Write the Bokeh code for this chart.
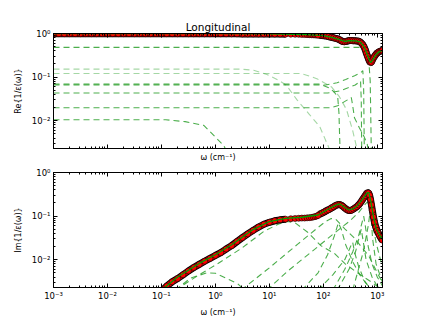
from bokeh.plotting import figure
from bokeh.models import Range1d, LogAxis, FixedTicker, CustomJSTickFormatter
from bokeh.layouts import column
from bokeh.embed import file_html
from bokeh.resources import INLINE

# ---------------- data ----------------
title_text = "Longitudinal"
re_label = "Re{1/ε(ω)}"
im_label = "Im{1/ε(ω)}"
x_label = "ω (cm⁻¹)"

x_ticks = [1e-3, 1e-2, 1e-1, 1, 10, 100, 1000]
y_ticks = [1e-3, 1e-2, 1e-1, 1]

# measured data, Re part: dense low-frequency set
re_w_low = [0.001, 0.00126, 0.00158, 0.002, 0.00251, 0.00316, 0.00398, 0.00501, 0.00631, 0.00794,
            0.01, 0.0126, 0.0158, 0.02, 0.0251, 0.0316, 0.0398, 0.0501, 0.0631, 0.0794,
            0.1, 0.126, 0.158, 0.2, 0.251, 0.316, 0.398, 0.501, 0.631, 0.794,
            1.0, 1.26, 1.58, 2.0, 2.51, 3.16, 3.98, 5.01, 6.31, 7.94,
            10.0, 12.6, 15.8, 20.0]
re_v_low = [0.99, 0.99, 0.99, 0.99, 0.99, 0.99, 0.99, 0.99, 0.99, 0.99,
            0.99, 0.99, 0.99, 0.99, 0.99, 0.99, 0.989, 0.989, 0.989, 0.989,
            0.988, 0.988, 0.988, 0.987, 0.987, 0.987, 0.986, 0.986, 0.985, 0.985,
            0.984, 0.984, 0.983, 0.982, 0.981, 0.980, 0.979, 0.978, 0.977, 0.975,
            0.973, 0.971, 0.968, 0.965]
# sparse middle set
mid_w = [25, 30, 35, 40, 45, 50, 55, 60, 65, 70, 75, 80]
re_v_mid = [0.962, 0.958, 0.955, 0.95, 0.946, 0.942, 0.938, 0.934, 0.93, 0.925, 0.92, 0.915]
im_v_mid = [0.087, 0.088, 0.089, 0.09, 0.09, 0.091, 0.092, 0.093, 0.095, 0.097, 0.1, 0.103]
# dense infrared set
ir_w = [85, 95, 105, 115, 125, 140, 155, 170, 185, 200, 215, 230, 250, 270, 290, 310, 335, 360,
        390, 420, 450, 480, 510, 540, 570, 600, 630, 660, 690, 720, 750, 780, 810, 850, 890,
        940, 990, 1040, 1100, 1160, 1220, 1250]
re_v_ir = [0.91, 0.90, 0.885, 0.87, 0.85, 0.82, 0.80, 0.77, 0.75, 0.72, 0.68, 0.655, 0.65, 0.66,
           0.68, 0.69, 0.69, 0.685, 0.68, 0.675, 0.665, 0.64, 0.60, 0.55, 0.49, 0.42, 0.35, 0.30,
           0.26, 0.23, 0.215, 0.22, 0.245, 0.275, 0.30, 0.33, 0.355, 0.37, 0.385, 0.395, 0.405, 0.41]
im_v_ir = [0.11, 0.117, 0.125, 0.133, 0.14, 0.152, 0.163, 0.175, 0.183, 0.184, 0.178, 0.168, 0.153,
           0.142, 0.136, 0.134, 0.137, 0.145, 0.155, 0.165, 0.18, 0.198, 0.22, 0.245, 0.27, 0.295,
           0.325, 0.345, 0.34, 0.30, 0.24, 0.18, 0.135, 0.095, 0.072, 0.056, 0.047, 0.041, 0.036,
           0.032, 0.029, 0.028]
# measured data, Im part: dense low-frequency set
im_w_low = [0.1, 0.126, 0.158, 0.2, 0.251, 0.316, 0.398, 0.501, 0.631, 0.794,
            1.0, 1.26, 1.58, 2.0, 2.51, 3.16, 3.98, 5.01, 6.31, 7.94, 10.0, 12.6, 15.8, 20.0]
im_v_low = [0.0019, 0.0025, 0.0031, 0.0037, 0.0045, 0.0055, 0.0066, 0.0078, 0.0092, 0.0107,
            0.0125, 0.0145, 0.0175, 0.021, 0.026, 0.032, 0.039, 0.047, 0.056, 0.065, 0.072,
            0.078, 0.082, 0.085]

# fitted total (solid green)
re_fit_w = [1e-3, 1, 10, 50, 100, 150, 200, 250, 300, 400, 480, 550, 600, 650, 700, 750, 800, 900, 1000, 1100, 1250]
re_fit_v = [0.995, 0.99, 0.98, 0.945, 0.89, 0.80, 0.72, 0.655, 0.685, 0.68, 0.645, 0.53, 0.43, 0.33, 0.26, 0.215, 0.235, 0.30, 0.35, 0.385, 0.41]
im_fit_w = [0.1, 0.2, 0.5, 1, 2, 5, 10, 20, 40, 80, 120, 160, 190, 210, 250, 300, 350, 420, 500, 600, 660, 700, 760, 850, 950, 1100, 1250]
im_fit_v = [0.002, 0.004, 0.0082, 0.013, 0.022, 0.049, 0.075, 0.089, 0.094, 0.106, 0.142, 0.172, 0.189, 0.186, 0.157, 0.138, 0.146, 0.17, 0.22, 0.3, 0.352, 0.34, 0.215, 0.097, 0.052, 0.037, 0.029]

# model components, Re part (dashed)
re_c1_w = [1e-3, 450, 550, 620, 700, 740, 760, 775]
re_c1_v = [0.48, 0.48, 0.46, 0.35, 0.22, 0.08, 0.01, 0.002]
re_c2_w = [1e-3, 3, 5.1, 9, 14.6, 20.5, 32.6, 55, 86, 120, 135]
re_c2_v = [0.152, 0.152, 0.144, 0.115, 0.085, 0.066, 0.030, 0.014, 0.0073, 0.0028, 0.002]
re_c3_w = [1e-3, 38, 56, 78, 143, 200, 270, 347, 410, 430]
re_c3_v = [0.121, 0.121, 0.105, 0.09, 0.059, 0.035, 0.0178, 0.0062, 0.0026, 0.002]
re_c4_w = [1e-3, 86, 131, 160, 185, 195, 200, 205]
re_c4_v = [0.069, 0.069, 0.056, 0.045, 0.035, 0.015, 0.005, 0.002]
re_c5_w = [1e-3, 110, 180, 260, 380, 500, 540, 560, 575]
re_c5_v = [0.066, 0.066, 0.074, 0.088, 0.107, 0.128, 0.14, 0.05, 0.002]
re_c6_w = [1e-3, 120, 200, 280, 390, 490, 505, 515]
re_c6_v = [0.043, 0.043, 0.048, 0.056, 0.066, 0.081, 0.03, 0.002]
re_c7_w = [1e-3, 136, 184, 280, 330, 345, 378, 465, 570, 650, 690]
re_c7_v = [0.0198, 0.0198, 0.022, 0.030, 0.034, 0.025, 0.0117, 0.0069, 0.0043, 0.0029, 0.002]
re_c8_w = [1e-3, 0.12, 0.275, 0.61, 1.06, 1.43, 1.6]
re_c8_v = [0.0105, 0.0105, 0.0095, 0.0078, 0.0039, 0.0027, 0.002]

# model components, Im part (dashed)
im_c1_w = [0.18, 0.35, 0.7, 1.0, 1.7, 2.6, 3.5]
im_c1_v = [0.002, 0.0038, 0.005, 0.0049, 0.0036, 0.0028, 0.002]
im_c2_w = [0.18, 0.5, 1.0, 3.0, 8.0, 15, 22, 30, 52, 90, 160, 255, 430, 800, 1250]
im_c2_v = [0.002, 0.0045, 0.0075, 0.018, 0.045, 0.066, 0.075, 0.07, 0.042, 0.021, 0.014, 0.008, 0.005, 0.003, 0.002]
im_c3_w = [3.0, 10, 34, 70, 110, 140, 170, 250, 370, 520, 700, 1000, 1250]
im_c3_v = [0.002, 0.0065, 0.023, 0.048, 0.075, 0.088, 0.085, 0.051, 0.032, 0.019, 0.012, 0.005, 0.003]
im_c4_w = [9, 22, 60, 150, 300, 450, 580, 650, 700, 760, 830, 950, 1100, 1250]
im_c4_v = [0.002, 0.0055, 0.015, 0.038, 0.075, 0.12, 0.18, 0.21, 0.19, 0.12, 0.06, 0.025, 0.012, 0.007]
im_c5_w = [40, 80, 120, 160, 190, 215, 260, 350, 500, 800]
im_c5_v = [0.002, 0.005, 0.013, 0.035, 0.07, 0.05, 0.022, 0.009, 0.004, 0.002]
im_c6_w = [150, 250, 350, 450, 520, 560, 600, 680, 800, 1000, 1250]
im_c6_v = [0.002, 0.006, 0.015, 0.035, 0.07, 0.1, 0.06, 0.02, 0.008, 0.004, 0.0025]
im_c7_w = [180, 300, 400, 470, 505, 540, 620, 800, 1100]
im_c7_v = [0.002, 0.006, 0.016, 0.035, 0.05, 0.03, 0.01, 0.004, 0.002]
im_c8_w = [80, 150, 250, 320, 350, 380, 450, 600, 800]
im_c8_v = [0.002, 0.0045, 0.01, 0.02, 0.025, 0.015, 0.007, 0.003, 0.002]
im_c9_w = [350, 550, 680, 740, 770, 820, 950, 1250]
im_c9_v = [0.002, 0.015, 0.06, 0.13, 0.09, 0.03, 0.008, 0.003]

re_components = [(re_c1_w, re_c1_v, 0.8), (re_c2_w, re_c2_v, 0.4), (re_c3_w, re_c3_v, 0.4),
                 (re_c4_w, re_c4_v, 0.8), (re_c5_w, re_c5_v, 0.8), (re_c6_w, re_c6_v, 0.8),
                 (re_c7_w, re_c7_v, 0.8), (re_c8_w, re_c8_v, 0.8)]
im_components = [(im_c1_w, im_c1_v, 0.8), (im_c2_w, im_c2_v, 0.8), (im_c3_w, im_c3_v, 0.8),
                 (im_c4_w, im_c4_v, 0.8), (im_c5_w, im_c5_v, 0.8), (im_c6_w, im_c6_v, 0.8),
                 (im_c7_w, im_c7_v, 0.8), (im_c8_w, im_c8_v, 0.8), (im_c9_w, im_c9_v, 0.8)]

FONT = "DejaVu Sans"
DASH_COLOR = "#1f9a1f"
x_minor = [m * 10.0 ** e for e in range(-3, 4) for m in range(2, 10)]
y_minor = [m * 10.0 ** e for e in range(-3, 1) for m in range(2, 10)]

SUP_CODE = """
const sup = {"-":"\\u207b","0":"\\u2070","1":"\\u00b9","2":"\\u00b2","3":"\\u00b3","4":"\\u2074",
             "5":"\\u2075","6":"\\u2076","7":"\\u2077","8":"\\u2078","9":"\\u2079"};
const e = Math.round(Math.log10(tick));
let s = "";
for (const c of String(e)) { s += sup[c]; }
return "10" + s;
"""


def style_axis(ax, ticks, minor, labels=True):
    ax.ticker = FixedTicker(ticks=ticks, minor_ticks=minor)
    ax.major_tick_in = 4
    ax.major_tick_out = 0
    ax.minor_tick_in = 2
    ax.minor_tick_out = 0
    ax.axis_line_color = "black"
    ax.major_tick_line_color = "black"
    ax.minor_tick_line_color = "black"
    ax.major_label_text_font = FONT
    ax.major_label_text_font_size = "8.5px"
    ax.major_label_text_color = "black"
    ax.major_label_standoff = 3
    ax.axis_label_text_font = FONT
    ax.axis_label_text_font_size = "8px"
    ax.axis_label_text_font_style = "normal"
    ax.axis_label_text_color = "black"
    if labels:
        ax.formatter = CustomJSTickFormatter(code=SUP_CODE)
    else:
        ax.formatter = CustomJSTickFormatter(code="return '';")


def make_panel(ylabel, top, bottom, show_xticklabels, title=None):
    p = figure(x_axis_type="log", y_axis_type="log",
               x_range=Range1d(1e-3, 1250), y_range=Range1d(0.0023, 1.0),
               frame_width=329, frame_height=115,
               min_border_left=53, min_border_right=35,
               min_border_top=top, min_border_bottom=bottom,
               output_backend="svg", toolbar_location=None)
    if title:
        p.title.text = title
        p.title.align = "center"
        p.title.text_font = FONT
        p.title.text_font_size = "10.5px"
        p.title.text_font_style = "normal"
        p.title.text_color = "black"
        p.title.standoff = 2
    p.xgrid.grid_line_color = None
    p.ygrid.grid_line_color = None
    p.outline_line_color = "black"
    p.background_fill_color = "white"
    p.border_fill_color = "white"
    style_axis(p.xaxis[0], x_ticks, x_minor, labels=show_xticklabels)
    style_axis(p.yaxis[0], y_ticks, y_minor, labels=True)
    p.xaxis.axis_label = x_label
    p.xaxis.axis_label_standoff = 4
    p.yaxis.axis_label = ylabel
    p.yaxis.axis_label_standoff = 6
    right = LogAxis()
    style_axis(right, y_ticks, y_minor, labels=False)
    p.add_layout(right, "right")
    above = LogAxis()
    style_axis(above, x_ticks, x_minor, labels=False)
    p.add_layout(above, "above")
    return p


def draw(p, comps, segs_dense, seg_sparse, fit):
    for w, v, a in comps:
        p.line(w, v, line_dash="6 4", line_color=DASH_COLOR, line_alpha=a, line_width=1.1)
    for w, v in segs_dense:
        p.line(w, v, line_color="black", line_width=7)
        p.line(w, v, line_color="red", line_width=5)
    for w, v in segs_dense + [seg_sparse]:
        p.scatter(w, v, marker="circle", size=6, fill_color="red",
                  line_color="black", line_width=0.6)
    p.line(fit[0], fit[1], line_color="#00a000", line_width=1.3)


p1 = make_panel(re_label, top=33, bottom=16, show_xticklabels=False, title=title_text)
draw(p1, re_components, [(re_w_low, re_v_low), (ir_w, re_v_ir)], (mid_w, re_v_mid), (re_fit_w, re_fit_v))

p2 = make_panel(im_label, top=8, bottom=24, show_xticklabels=True)
draw(p2, im_components, [(im_w_low, im_v_low), (ir_w, im_v_ir)], (mid_w, im_v_mid), (im_fit_w, im_fit_v))

layout = column(p1, p2, spacing=0)
open("out.html", "w").write(file_html(layout, INLINE))
